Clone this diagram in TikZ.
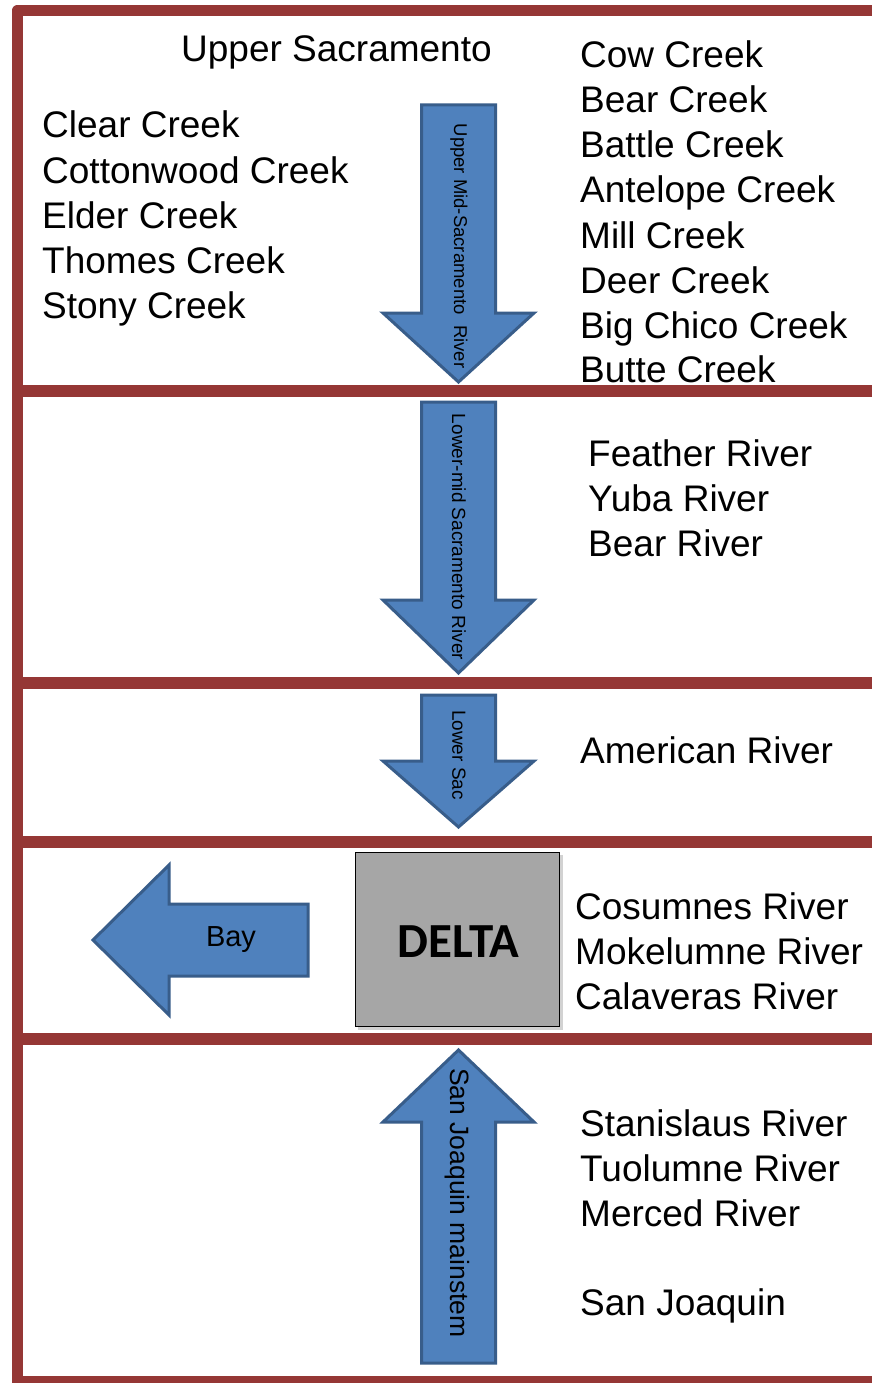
\documentclass[tikz,border=0pt]{standalone}
\usepackage{fontspec}
\setmainfont{Liberation Sans}
\newfontfamily\calibri{Carlito}
\definecolor{bandred}{HTML}{953735}
\definecolor{arrowfill}{HTML}{4F81BD}
\definecolor{arrowedge}{HTML}{385D8A}
\definecolor{deltagray}{HTML}{A6A6A6}
\begin{document}
\begin{tikzpicture}[x=1pt,y=-1pt]
\tikzset{
  riv/.style={font=\fontsize{37}{44}\selectfont, anchor=base west, inner sep=0pt},
  flow/.style={fill=arrowfill, draw=arrowedge, line width=3pt, line join=miter},
  band/.style={draw=bandred, line width=12pt},
  vlab/.style={rotate=-90, inner sep=0pt, anchor=center},
}
\clip (0,0) rectangle (872,1383);
\fill[white] (0,0) rectangle (872,1383);

% ---- river arrows ----
% Upper Mid-Sacramento (down)
\draw[flow] (421.5,105) -- (495.5,105) -- (495.5,313) -- (534,313) -- (458.5,382)
  -- (383,313) -- (421.5,313) -- cycle;
\node[vlab, font=\fontsize{18.5}{20}\selectfont] (umsac) at (459,246) {Upper Mid-Sacramento\ \ River};

% Lower-mid Sacramento (down)
\draw[flow] (421.5,402) -- (495.5,402) -- (495.5,600) -- (534,600) -- (458.5,673)
  -- (383,600) -- (421.5,600) -- cycle;
\node[vlab, font=\fontsize{19}{21}\selectfont] (lmsac) at (459,537) {Lower-mid Sacramento River};

% Lower Sac (down)
\draw[flow] (421.5,695) -- (495.5,695) -- (495.5,761) -- (534,761) -- (458.5,827)
  -- (383,761) -- (421.5,761) -- cycle;
\node[vlab, font=\fontsize{19}{21}\selectfont] (lsac) at (459,755) {Lower Sac};

% San Joaquin mainstem (up)
\draw[flow] (421.5,1363) -- (495.5,1363) -- (495.5,1122) -- (534,1122) -- (458.5,1050)
  -- (383,1122) -- (421.5,1122) -- cycle;
\node[vlab, font=\fontsize{26.5}{28}\selectfont] (sjm) at (457,1203) {San Joaquin mainstem};

% Bay (left)
\draw[flow] (308,904) -- (308,976) -- (169,976) -- (169,1015) -- (93,940)
  -- (169,865) -- (169,904) -- cycle;
\node[inner sep=0pt, font=\fontsize{29}{32}\selectfont] (bay) at (231,940) {Bay};

% ---- delta box ----
\fill[black!35, opacity=0.5] (358,855) rectangle (563,1030);
\node[draw=black, line width=1.5pt, fill=deltagray, minimum width=204pt, minimum height=174pt,
  inner sep=0pt, font=\calibri\bfseries\fontsize{49}{52}\selectfont] (delta) at (457.5,939.5) {};
\node[inner sep=0pt, font=\calibri\bfseries\fontsize{49}{52}\selectfont] (deltatxt) at (458.5,942) {DELTA};

% ---- frame and section bands ----
\draw[band, line width=11.5pt, line join=round] (17.5,1400) -- (17.5,10.5) -- (890,10.5);
\draw[band] (17.5,391) -- (890,391);
\draw[band] (17.5,683) -- (890,683);
\draw[band] (17.5,842) -- (890,842);
\draw[band] (17.5,1038.5) -- (890,1038.5);
\draw[band] (17.5,1382) -- (890,1382);

% ---- section 1: Upper Sacramento ----
\node[riv] (usac) at (181,62) {Upper Sacramento};
\node[riv] (clear)  at (42,138) {Clear Creek};
\node[riv] (cotton) at (42,183) {Cottonwood Creek};
\node[riv] (elder)  at (42,228) {Elder Creek};
\node[riv] (thomes) at (42,273) {Thomes Creek};
\node[riv] (stony)  at (42,318) {Stony Creek};

\node[riv] (cow)      at (580,68)  {Cow Creek};
\node[riv] (bearc)    at (580,113) {Bear Creek};
\node[riv] (battle)   at (580,158) {Battle Creek};
\node[riv] (antelope) at (580,203) {Antelope Creek};
\node[riv] (mill)     at (580,248) {Mill Creek};
\node[riv] (deer)     at (580,293) {Deer Creek};
\node[riv] (bigchico) at (580,338) {Big Chico Creek};
\node[riv] (butte)    at (580,382) {Butte Creek};

% ---- section 2 ----
\node[riv] (feather) at (588,466) {Feather River};
\node[riv] (yuba)    at (588,511) {Yuba River};
\node[riv] (bearr)   at (588,556) {Bear River};

% ---- section 3 ----
\node[riv] (american) at (580,763) {American River};

% ---- section 4 ----
\node[riv] (cosumnes)  at (575,919)  {Cosumnes River};
\node[riv] (mokelumne) at (575,964)  {Mokelumne River};
\node[riv] (calaveras) at (575,1009) {Calaveras River};

% ---- section 5 ----
\node[riv] (stanislaus) at (580,1136) {Stanislaus River};
\node[riv] (tuolumne)   at (580,1181) {Tuolumne River};
\node[riv] (merced)     at (580,1226) {Merced River};
\node[riv] (sanjoaquin) at (580,1315) {San Joaquin};
\end{tikzpicture}
\end{document}
